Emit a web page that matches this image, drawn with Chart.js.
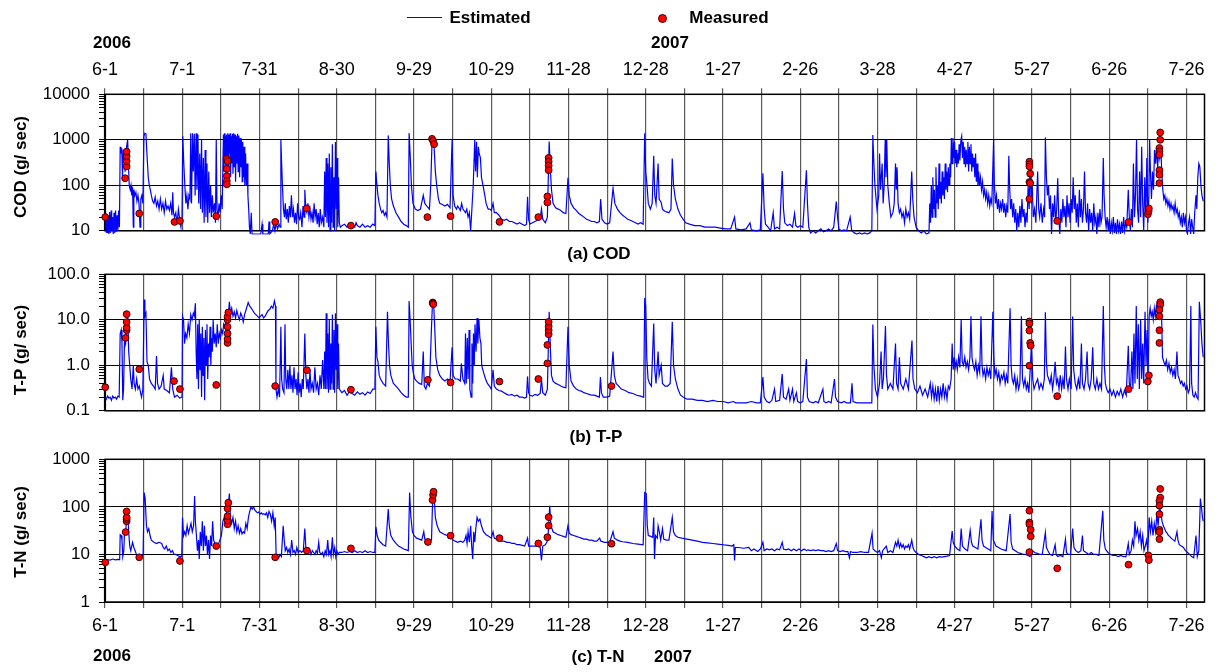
<!DOCTYPE html>
<html><head><meta charset="utf-8">
<script src="https://cdn.jsdelivr.net/npm/chart.js@4/dist/chart.umd.min.js"></script>
<style>
html,body{margin:0;padding:0;background:#fff}
body{width:1219px;height:672px;position:relative;overflow:hidden;font-family:"Liberation Sans",Arial,sans-serif;color:#000}
canvas{position:absolute;left:0}
.t{position:absolute;font-weight:bold;font-size:17px;white-space:nowrap;transform:translate(-50%,-50%);z-index:2}
.r{position:absolute;font-weight:bold;font-size:17px;white-space:nowrap;transform:translate(-50%,-50%) rotate(-90deg);z-index:2}
</style></head><body>
<canvas id="c1" width="1219" height="250" style="top:0px"></canvas>
<canvas id="c2" width="1219" height="180" style="top:250px"></canvas>
<canvas id="c3" width="1219" height="232" style="top:440px"></canvas>

<div style="position:absolute;left:407px;top:17px;width:35px;height:0;border-top:1.5px solid #0000ff;z-index:2"></div>
<div class="t" style="left:490px;top:18px">Estimated</div>
<div style="position:absolute;left:658px;top:14px;width:7px;height:7px;border-radius:50%;background:#ff0000;border:1px solid #400;z-index:2"></div>
<div class="t" style="left:729px;top:18px">Measured</div>
<div class="t" style="left:112px;top:43px">2006</div>
<div class="t" style="left:670px;top:43px">2007</div>
<div class="t" style="left:599px;top:254px">(a) COD</div>
<div class="t" style="left:596px;top:437px">(b) T-P</div>
<div class="t" style="left:598px;top:657px">(c) T-N</div>
<div class="t" style="left:673px;top:657px">2007</div>
<div class="t" style="left:112px;top:656px">2006</div>
<div class="r" style="left:21px;top:167px">COD (g/ sec)</div>
<div class="r" style="left:21px;top:350px">T-P (g/ sec)</div>
<div class="r" style="left:21px;top:532px">T-N (g/ sec)</div>

<script>
// ---------- DATA (day index from 2006-06-01) ----------
const tickLabels = ['6-1','7-1','7-31','8-30','9-29','10-29','11-28','12-28','1-27','2-26','3-28','4-27','5-27','6-26','7-26'];
const gridDays = [0,15,30,45,60,75,90,105,120,135,150,165,180,195,210,225,240,255,270,285,300,315,330,345,360,375,390,405,420];
const codDecades = [10,100,1000,10000];
const codDecLabels = ['10','100','1000','10000'];
const tpDecades = [0.1,1,10,100];
const tpDecLabels = ['0.1','1.0','10.0','100.0'];
const tnDecades = [1,10,100,1000];
const tnDecLabels = ['1','10','100','1000'];

const estCOD = [[0,12],[0.3,25],[0.5,9],[0.8,22],[1,9],[1.3,18],[1.5,8.5],[1.8,26],[2.1,9],[2.4,28],[2.6,10],[2.9,20],[3.2,8.5],[3.5,25],[3.8,9],[4.1,28],[4.4,9.5],[4.7,22],[5,10],[5.3,28],[5.6,12],
[5.9,700],[6.2,500],[6.5,650],[6.8,150],[7.1,600],[7.5,400],[7.8,200],[8.2,600],[8.8,1000],[9.1,300],[9.4,100],[9.8,80],[10.1,100],[10.4,60],[10.7,90],[11,12],[11.2,80],[11.6,60],[12,70],[12.4,45],[12.8,60],[13.2,40],[13.6,12],[13.9,50],[14.3,60],[14.7,40],
[15.1,1200],[15.5,1400],[15.9,1350],[16.2,600],[16.5,300],[16.8,150],[17.2,100],[17.6,80],[18,60],[18.5,45],[19,40],[19.5,55],[20,35],[20.5,45],[21,30],[21.5,50],[22,30],[22.5,40],[23,25],[23.5,45],[24,30],[24.5,35],[25,28],[25.5,40],[26,22],[26.3,70],[26.6,25],[27,20],[27.5,25],[28,14],[28.5,30],[29,18],[29.5,12],[29.9,20],
[30.2,1200],[30.6,300],[31,100],[31.4,40],[31.8,60],[32.2,30],[32.6,60],[33,50],[33.3,1400],[33.6,40],[34,1400],[34.3,200],[34.7,1350],[35,60],[35.4,1400],[35.7,80],[36.1,1300],[36.4,40],[36.8,500],[37.1,30],[37.5,1000],[37.8,25],[38.2,400],[38.5,15],[38.9,600],[39.2,20],[39.6,300],[39.9,15],[40.3,200],[40.6,25],[41,100],[41.3,20],[41.7,60],[42,25],[42.5,40],[42.9,15],[43.2,1000],[43.5,30],[43.9,20],[44.3,40],[44.7,25],[45.1,60],[45.5,30],
[46,1300],[46.2,200],[46.4,1400],[46.6,300],[46.8,1200],[47,150],[47.2,1300],[47.4,400],[47.7,1400],[47.9,200],[48.1,1300],[48.3,500],[48.6,1400],[48.8,150],[49,1200],[49.3,300],[49.5,1350],[49.7,180],[50,1400],[50.2,250],[50.5,1300],[50.7,120],[51,1200],[51.2,300],[51.5,1350],[51.7,200],[52,1250],[52.3,150],[52.5,1100],[52.8,250],[53,1000],[53.3,120],[53.5,900],[53.8,150],[54,700],[54.3,100],[54.6,500],[54.9,100],[55.2,300],[55.5,60],
[55.8,30],[56.1,12],[56.4,8.5],[56.8,25],[57.1,8.5],[57.5,8.5],[58.5,8.5],[59.5,8.5],[60.5,8.5],[61,14],[61.3,8.5],[62.5,8.5],[63.4,8.5],[63.7,16],[64,8.5],[65,10],[65.5,14],[66,10],[66.5,15],[67,11],[67.6,14],[68,12],
[68.3,1000],[68.6,300],[68.9,100],[69.3,30],[69.7,20],[70,40],[70.4,18],[70.8,30],[71.2,15],[71.6,35],[72,20],[72.4,60],[72.8,20],[73.2,30],[73.6,15],[74,25],[74.4,14],[74.8,40],[75.2,20],[75.6,18],[76,25],[76.5,12],[76.9,35],[77.3,20],[77.6,80],[78,30],[78.4,25],[78.8,40],[79.2,20],[79.6,30],[80,18],[80.4,25],[80.8,15],[81.2,40],[81.6,20],[82,30],[82.4,14],[82.8,25],[83.2,12],[83.6,30],[84,15],[84.5,20],
[85,12],[85.3,200],[85.6,20],[85.9,400],[86.2,15],[86.5,300],[86.8,12],[87.1,500],[87.4,10],[87.7,250],[88,15],[88.3,800],[88.6,12],[88.9,150],[89.2,10],[89.5,900],[89.8,30],[90.1,400],[90.4,12],[90.7,150],[91,15],[91.4,12],
[92,13],[93,14],[94,12],[95,14],[96,13],[97,12],[97.5,15],[98,13],[99,12],[100,14],[101,12],[102,13],[103,12],[104,14],[104.8,13],
[105.2,200],[105.5,120],[106,60],[106.5,40],[107,30],[107.5,25],[108,28],[108.5,22],[109,25],[109.5,20],
[110,1250],[110.4,300],[110.8,100],[111.3,50],[112,35],[113,25],[114,20],[115,16],[116,14],[117,13],[117.8,12],
[118.1,1400],[118.5,500],[119,100],[119.6,40],[120.5,30],[121.5,28],[122.5,30],[123.6,60],[124.2,40],[125,35],[126,30],[126.5,100],[127,900],[127.4,850],[127.8,700],[128.3,200],[128.8,100],[129.5,50],[130,40],[131,38],[132,35],[133,38],[134,32],[134.8,1000],[135.2,60],[135.8,35],[136.5,30],[137,35],[138,28],[138.5,40],[139,30],[140,25],[140.5,30],[141,20],[141.5,25],[142,10],[142.4,25],[143,100],[143.6,1000],[143.9,200],[144.3,900],[144.6,150],[145,700],[145.3,500],[145.8,400],[146.2,150],[146.8,100],[147.5,60],[148,40],[148.8,30],[149.4,30],[150,28],[150.7,40],[151.2,25],[152,25],[153,22],[154,18],[155,17],[156,18],[157,16],[158,16],[159,15],[160,14],[161,15],[162,14],[163,13],[163.7,14],[164.1,56],[164.5,18],[165,14],[166,15],[167,16],[168,17],[169,18],[169.5,30],[170,18],[171,15],[171.8,20],[172.5,920],[173,200],[173.4,80],[174,40],[175,32],[176,30],[177,28],[178,25],[179,24],[179.8,147],[180.3,60],[181,40],[182,32],[183,28],[184,24],[185,22],[186,20],[187,18],[188,17],[189,16],[190,16],[191,15],[192,16],[192.5,50],[193,18],[194,15],[195,14],[196,15],[197.3,86],[198,40],[199,30],[200,25],[201,22],[202,20],[203,18],[204,17],[205,16],[206,15],[207,14],[208,15],[209,14],[209.6,1400],[210,200],[210.5,100],[211,40],[211.8,30],[212.5,40],[213.1,445],[213.5,60],[214,40],[214.8,300],[215.2,50],[216,42],[216.5,30],[217,28],[218,26],[219,25],[219.8,30],[220.3,390],[220.8,100],[221.5,50],[222.5,30],[223.5,22],[224.5,18],[225.5,15],[227,14],[229,13],[231,13],[233,12],[235,12],[237,12],[239,11.5],[241,11],[243,11],[244.5,20],[245,11],[247,10.5],[249,11],[250.5,15],[251,10.5],[253,10],[254.5,10.5],[255.5,183],[256,30],[256.5,14],[257.5,12],[258.5,10],[259.5,25],[260,11],[261,12],[262,11],[263,206],[263.5,30],[264,15],[265,13],[266,14],[267,12],[267.8,24],[268.3,13],[269,12],[270,13],[271,12],[272.4,215],[272.8,40],[273.3,12],[274,9],[275,10],[276,9],[277,10],[278,11],[279,9.5],[280,10],[281,11],[282,10],[283,12],[284,44],[284.5,20],[285,11],[286,10],[287,10.5],[288,10],[289.4,20],[290,10],[291,9],[292,8.5],[293,9],[294,8.5],[295,9],[296,8.5],[297,9],[297.8,10],[298.2,1280],[298.6,300],[299,100],[299.8,30],[300.5,60],[300.8,500],[301.2,80],[301.8,300],[302.2,40],[302.6,100],[303,1000],[303.3,150],[303.6,1000],[304,100],[304.6,40],[305.2,20],[306,25],[306.5,40],[307,300],[307.3,80],[307.6,250],[308,40],[308.5,25],[309,30],[309.5,20],[310,25],[310.5,15],[311,30],[311.5,20],[312,25],[312.5,18],[313.3,200],[313.7,50],[314.2,20],[315,12],[316,10],[317,9],[318,10],[319,8.5],[320,9],
[320.3,40],[320.6,15],[320.9,100],[321.2,20],[321.5,150],[321.8,30],[322.1,80],[322.4,20],[322.7,250],[323,40],[323.3,100],[323.6,30],[323.9,300],[324.2,50],[324.5,120],[324.8,40],[325.1,200],[325.4,60],[325.7,150],[326,50],[326.3,300],[326.6,80],[326.9,200],[327.2,70],[327.5,250],[327.8,100],[328.1,300],[328.4,150],
[328.7,1100],[329,300],[329.3,1100],[329.6,400],[329.9,900],[330.2,300],[330.5,600],[330.8,250],[331.1,500],[331.4,300],[331.7,800],[332,350],[332.4,1000],[332.7,1200],[333,400],[333.3,900],[333.6,300],[333.9,700],[334.2,250],[334.5,600],[334.8,300],[335.1,900],[335.4,200],[335.7,700],[336,300],[336.3,800],[336.6,200],[336.9,500],[337.2,250],[337.5,400],[337.8,150],[338.1,500],[338.4,120],[338.7,300],[339,100],[339.3,200],
[339.6,100],[340,150],[340.4,80],[340.8,120],[341.2,60],[341.6,80],[342,50],[342.4,70],[342.8,40],[343.2,60],[343.6,35],[344,50],[344.4,40],[345.1,1000],[345.4,100],[345.8,40],[346.2,60],[346.6,30],[347,50],[347.4,25],[347.8,40],[348.2,30],[348.6,50],[349,25],[349.4,40],[349.8,20],[350.2,35],[350.6,25],[351,445],[351.3,100],[351.7,30],[352.1,50],[352.5,20],[352.9,40],[353.3,15],[353.7,30],[354.1,10],[354.5,25],[354.9,12],[355.3,35],[355.7,15],[356.1,50],[356.5,20],[356.9,30],[357.3,12],[357.7,25],[358.1,15],[358.5,100],[358.9,30],[359.3,350],[359.7,40],[360.1,100],[360.5,20],[361,30],[361.5,15],[362.2,200],[362.6,30],[363,20],[363.5,40],[364,15],[364.5,30],[364.9,20],[365.2,1130],[365.6,150],[366,60],[366.4,100],[366.8,30],[367.2,60],[367.6,8.5],[368,40],[368.4,20],[368.8,60],[369.2,15],[369.6,30],[370,143],[370.4,20],[370.8,8.5],[371.2,30],[371.6,15],[372,50],[372.4,20],[372.8,35],[373.2,12],[373.6,60],[374,20],[374.4,40],[374.8,15],[375.2,50],[375.6,25],[376,150],[376.4,30],[376.8,60],[377.2,15],[377.6,40],[378,12],[378.4,80],[378.8,20],[379.2,50],[379.6,15],[380,30],[380.4,200],[380.8,25],[381.2,15],[381.6,40],[382,10],[382.4,30],[382.8,15],[383.2,25],[383.6,10],[384,40],[384.4,15],[384.8,20],[385.2,8.5],[385.6,25],[386,12],[386.4,30],[386.8,15],[387.2,20],[387.7,400],[388,60],[388.4,20],[388.8,12],[389.2,20],[389.6,10],[390,18],[390.4,8.5],[390.8,15],[391.2,10],[391.6,20],[392,9],[392.4,15],[392.8,8.5],[393.2,18],[393.6,10],[394,14],[394.4,8.5],[394.8,16],[395.2,9],[395.6,20],[396,10],[396.4,15],[396.8,12],[397.4,80],[397.8,20],[398.2,10],[398.6,30],[399,12],[399.4,300],[399.8,20],[400.2,60],[400.6,1000],[401,30],[401.4,15],[401.8,200],[402.2,20],[402.6,700],[403,40],[403.4,10],[403.8,150],[404.2,20],[404.6,400],[405,15],[405.4,60],[405.7,1000],[406,200],[406.4,50],[406.8,200],[407.2,80],[407.6,600],[408,300],[408.4,700],[408.8,250],[409.2,600],[409.6,400],[410,700],[410.4,200],
[410.8,80],[411.2,50],[411.6,60],[412,40],[412.4,50],[412.8,35],[413.2,45],[413.6,30],[414,40],[414.4,30],[414.8,35],[415.2,25],[415.6,40],[416,25],[416.4,30],[416.8,20],[417.2,25],[417.6,15],[418,20],[418.4,12],[418.8,25],[419.2,15],[419.6,20],[420,10],[420.4,8.5],[420.8,15],[421.2,20],[421.6,8.5],[422,18],[422.4,12],[422.8,8.5],[423.2,25],[423.7,60],[424,30],[424.4,150],[424.8,300],[425.2,250],[425.6,100],[426,60],[426.5,45]];

const measCOD = [[0.1,20],[7.8,143],[8.4,260],[8.4,340],[8.4,440],[8.4,550],[13.3,24],[27,15.7],[29.1,16.5],[43.2,21],[47.2,380],[47.6,340],[47.3,230],[47.3,160],[47.3,125],[47.3,105],[66.1,15.7],[78.3,31],[95.5,13],[125.2,20],[127,1050],[127.4,950],[127.8,800],[134.2,21],[153.2,15.7],[168.3,20],[171.8,57],[171.8,42],[172.3,400],[172.3,330],[172.3,270],[172.3,215],[359,330],[359,290],[359,260],[359.3,180],[359,118],[359.3,112],[359,50],[369.8,16.5],[397.5,15.5],[405,23],[405.3,27],[405.4,31],[409.8,1450],[409.8,1000],[409.5,660],[409.5,560],[409.5,470],[409.5,215],[409.5,170],[409.5,112]];

const estTP = [[0,0.2],[0.5,0.18],[1,0.21],[1.5,0.19],[2,0.2],[2.5,0.17],[3,0.21],[3.5,0.19],[4,0.2],[4.5,0.18],[5,0.21],[5.5,0.2],
[5.9,5],[6.3,6],[6.6,3],[6.9,0.17],[7.2,0.3],[7.6,4],[8,3],[8.4,6],[8.8,15],[9.2,2],[9.6,1],[10,0.5],[10.5,0.3],[11,1.0],[11.3,0.4],[11.8,0.3],[12.3,0.5],[12.8,0.3],[13.3,0.35],[13.8,0.25],[14.2,0.2],[14.7,0.3],
[15.2,28],[15.5,12],[15.9,14],[16.3,1.2],[16.8,1.0],[17.3,0.5],[18,0.4],[18.8,0.35],[19.5,0.3],[20,1.6],[20.4,0.4],[21,0.3],[21.8,0.35],[22.6,0.6],[23,0.3],[24,0.28],[25,0.25],[25.8,0.9],[26.3,0.3],[27,0.2],[28,0.22],[29,0.19],[29.9,0.2],
[30.1,12],[30.5,10],[30.9,3],[31.3,5],[31.8,4],[32.3,8],[32.8,5],[33.3,13],[33.8,10],[34.3,14],[34.7,12],[35.1,23],[35.4,2],[35.7,0.5],[36,8],[36.3,0.3],[36.6,10],[36.9,0.8],[37.2,5],[37.5,0.2],[37.8,7],[38.1,0.6],[38.4,4],[38.7,0.17],[39,6],[39.3,1],[39.6,8],[39.9,0.5],[40.2,3],[40.5,1.5],[40.8,7],[41.1,1],[41.4,4],[41.7,2],[42,10],[42.4,3],[42.8,5],[43.2,2.5],[43.6,8],[44,3],[44.4,5],[44.8,4],[45.3,6],[45.7,5],[46.1,8],[46.5,7],[47,10],[47.5,12],[48,15],[48.3,25],[48.7,14],[49.2,18],[49.7,12],[50.2,15],[50.7,11],[51.2,16],[51.7,12],[52.2,10],[52.7,14],[53.2,12],[53.7,9],[54.2,13],[54.7,16],[55.2,20],[55.6,24],[56.2,20],[56.8,18],[57.4,16],[58,14],[58.6,13],[59.2,12],[59.8,11],[60.4,12],[61,13],[61.6,11],[62.2,12],[62.8,14],[63.4,16],[64,17],[64.6,20],[65.2,18],[65.8,26],[66.2,20],[66.4,0.3],[66.8,0.2],[67.3,0.3],[67.8,0.2],[68.3,7],[68.6,0.5],[69,0.3],[69.5,0.25],[69.9,8],[70.2,0.5],[70.6,0.3],[71,0.8],[71.4,0.3],[71.8,1.0],[72.2,0.3],[72.6,0.6],[73,0.25],[73.4,0.9],[73.8,0.3],[74.2,0.5],[74.6,0.22],[75,0.7],[75.4,0.25],[75.8,0.4],[76.2,0.2],[76.6,0.5],[77,0.3],[77.6,5],[78,0.6],[78.4,0.3],[78.8,0.5],[79.2,0.25],[79.6,0.8],[80,0.3],[80.5,0.4],[81,0.25],[81.5,0.9],[82,0.3],[82.5,0.4],[83,0.22],[83.5,0.6],[84,0.3],[84.5,1.3],[85,0.3],
[85.3,2],[85.6,0.3],[85.9,14],[86.2,0.3],[86.5,5],[86.8,0.25],[87.1,10],[87.4,0.3],[87.7,3],[88,0.4],[88.3,13],[88.6,0.3],[88.9,6],[89.2,0.25],[89.5,14],[89.8,0.8],[90.1,8],[90.4,0.3],[90.7,3],[91,0.3],
[92,0.25],[93,0.28],[94,0.22],[95,0.27],[96,0.24],[97,0.22],[98,0.26],[99,0.23],[100,0.25],[101,0.22],[102,0.26],[103,0.24],[104,0.3],[104.8,0.3],
[105.2,7],[105.6,1.5],[106,1.2],[106.5,0.6],[107,0.5],[108,0.4],[109,0.35],[109.7,15],[110.1,3],[110.5,1.0],[111,0.6],[112,0.4],[113,0.35],[114,0.3],[115,0.25],[116,0.22],[117,0.2],[117.8,0.2],
[118.1,26],[118.5,10],[118.9,3],[119.3,1],[119.7,0.7],[120.3,0.5],[121,0.45],[122,0.4],[123,0.38],[123.6,2],[124,0.35],[124.6,0.3],[125.2,0.4],[126,0.35],[126.8,7],[127.2,25],[127.6,24],[128,8],[128.5,1.5],[129.2,0.8],[130,0.6],[131,0.5],[132,0.45],[133,0.5],[134,0.45],[134.8,2.5],[135.2,0.6],[136,0.5],[137,0.5],[138,0.45],[138.4,1.1],[139,0.5],[139.7,0.4],[140,5],[140.3,0.4],[140.7,4],[141,0.5],[141.4,6],[141.7,0.3],[142.2,0.2],[142.5,3],[142.8,0.4],[143.1,5],[143.4,1],[143.7,8],[144.1,2],[144.5,11],[144.8,3],[145.2,10],[145.6,4],[146,3],[146.3,1.0],[147,0.7],[147.8,0.5],[148.5,0.4],[149.3,0.35],[150,0.3],[150.7,0.8],[151.2,0.35],[152,0.3],[153,0.28],[154,0.27],[155,0.25],[156,0.23],[157,0.22],[158,0.23],[159,0.21],[160,0.22],[161,0.2],[162,0.2],[163,0.19],[163.7,0.2],[164.1,0.57],[164.5,0.25],[165,0.22],[166,0.21],[167,0.23],[168,0.22],[169,0.24],[169.5,0.5],[170,0.25],[171,0.22],[171.8,0.3],[172.5,15],[173,2],[173.4,0.6],[174,0.45],[175,0.4],[176,0.38],[177,0.35],[178,0.33],[179,0.32],[179.8,7],[180.3,1],[181,0.45],[182,0.35],[183,0.3],[184,0.28],[185,0.27],[186,0.25],[187,0.24],[188,0.23],[189,0.22],[190,0.22],[191,0.21],[192,0.2],[192.4,0.55],[192.8,0.25],[193.5,0.2],[195,0.2],[196,0.21],[197.3,2],[197.8,0.6],[198.5,0.4],[199.5,0.35],[200.5,0.3],[202,0.28],[203.5,0.25],[205,0.24],[206.5,0.22],[208,0.21],[209.2,0.2],[209.6,30],[210,20],[210.4,1.5],[210.9,0.5],[211.5,0.4],[212.2,0.35],[213.1,8.3],[213.5,0.8],[214,0.4],[214.8,2],[215.2,0.6],[216,1.0],[216.5,0.4],[217.5,0.35],[218.5,0.35],[219.5,0.4],[220.3,9],[220.8,1.0],[221.5,0.5],[222.5,0.3],[223.5,0.22],[224.5,0.2],[226,0.18],[228,0.18],[230,0.17],[232,0.17],[234,0.16],[236,0.17],[238,0.16],[240,0.16],[242,0.15],[244,0.16],[245,0.15],[247,0.15],[249,0.15],[251,0.16],[253,0.15],[254.5,0.15],[255.5,0.55],[256,0.2],[257,0.16],[258,0.15],[259,0.17],[260,0.3],[260.5,0.16],[262,0.17],[263,0.64],[263.5,0.2],[264.5,0.18],[265.5,0.3],[266,0.17],[267,0.3],[267.5,0.16],[268.5,0.25],[269,0.16],[270,0.15],[271,0.16],[272.4,1.37],[272.8,0.2],[273.5,0.16],[275,0.15],[276,0.16],[277,0.15],[278.8,0.3],[279.2,0.16],[280,0.15],[281,0.16],[282,0.15],[283.3,0.5],[283.7,0.2],[284.5,0.16],[286,0.15],[287,0.16],[288,0.15],[289.5,0.15],[290.1,0.4],[290.5,0.16],[292,0.15],[294,0.15],[296,0.15],[297.8,0.15],[298.2,7.9],[298.6,1],[299.2,0.3],[300,0.2],[300.8,0.4],[301.4,2],[301.8,0.3],[302.3,0.5],[303.1,7.3],[303.5,0.6],[304,0.3],[305,0.4],[306,0.3],[307,3],[307.4,0.4],[308,0.3],[308.5,1.5],[309,0.4],[310,0.3],[311,0.5],[312,0.3],[313.4,3.5],[313.8,0.5],[314.5,0.3],[315.5,0.25],[316.5,0.35],[317.5,0.22],[318.5,0.3],[319.5,0.2],[320.5,0.4],[321,0.2],[321.5,0.35],[322,0.18],[322.5,0.3],[323,0.16],[323.5,0.35],[324,0.17],[324.5,0.3],[325,0.2],[325.5,0.4],[326,0.2],[326.5,0.3],[327,0.18],[327.5,0.35],[328,0.3],[328.6,0.5],[329,3],[329.4,0.8],[329.8,1.5],[330.2,0.9],[330.6,1.2],[331,0.8],[331.5,1.5],[332,0.9],[332.5,10],[332.9,1.2],[333.4,1.0],[333.9,1.5],[334.4,0.9],[334.9,1.2],[335.4,0.8],[335.9,1.5],[336.3,12],[336.7,1.5],[337.2,1.0],[337.7,0.8],[338.2,1.2],[338.7,0.6],[339.2,1.0],[339.7,0.7],[340.2,12],[340.6,1],[341,0.6],[341.5,0.8],[342,0.5],[342.5,0.9],[343,0.6],[343.5,0.8],[344,0.5],[344.8,15],[345.2,1.5],[345.6,0.6],[346.1,0.8],[346.6,0.5],[347.1,0.7],[347.6,0.4],[348.1,0.6],[348.6,0.5],[349.1,0.7],[349.6,0.4],[350.1,0.6],[350.6,0.4],[351.5,18],[351.9,1],[352.3,0.5],[352.8,0.4],[353.3,0.6],[353.8,0.3],[354.3,0.5],[354.8,0.3],[355.3,0.4],[355.9,12],[356.3,0.5],[356.8,0.35],[357.3,0.5],[357.8,0.3],[358.3,0.4],[358.8,0.25],[359.3,0.8],[359.8,3],[360.3,0.5],[360.8,0.3],[361.5,0.4],[362.2,0.5],[362.8,0.3],[363.5,0.4],[364.2,0.3],[364.8,0.5],[365.2,14.7],[365.6,1.2],[366,0.6],[366.5,0.5],[367,0.4],[367.5,0.6],[368,0.3],[368.5,0.5],[369,1.2],[369.5,0.4],[370,0.5],[370.5,0.3],[371,0.6],[371.5,0.3],[372,0.5],[372.5,0.3],[373,2.6],[373.4,0.5],[374,0.3],[374.5,0.5],[375.2,0.3],[375.8,11.8],[376.2,0.8],[376.8,0.4],[377.4,0.3],[378,0.5],[378.6,0.3],[379.2,3],[379.6,0.4],[380.2,0.3],[380.8,0.5],[381.4,2],[381.8,0.4],[382.4,0.3],[383,0.5],[383.6,2.5],[384,0.4],[384.6,0.3],[385.2,0.5],[385.8,0.3],[386.4,0.4],[387,0.3],[387.7,20],[388.1,1],[388.5,0.4],[389,0.3],[389.6,0.25],[390.3,0.3],[391,0.22],[391.7,0.28],[392.4,0.2],[393.1,0.27],[393.8,0.22],[394.5,0.3],[395.2,0.2],[395.9,0.28],[396.6,0.22],[397.4,2.7],[397.8,0.4],[398.3,0.3],[398.8,2],[399.2,0.3],[399.6,5],[400,0.4],[400.5,20],[400.9,0.5],[401.3,8],[401.7,0.3],[402.2,10],[402.6,0.5],[403,3],[403.4,0.4],[403.9,15],[404.3,1],[404.7,6],[405.1,0.5],[405.5,12],[405.9,18],[406.3,12],[406.7,15],[407.1,10],[407.5,18],[407.9,12],[408.3,20],[408.7,14],[409.1,16],[409.5,12],[409.9,22],[410.3,14],[410.7,1.5],[411.2,1.2],[411.7,1.0],[412.2,1.3],[412.7,0.8],[413.2,1.1],[413.7,0.7],[414.2,0.9],[414.7,0.6],[415.2,0.8],[415.7,0.5],[416.3,2],[416.7,0.6],[417.2,0.5],[417.7,0.4],[418.2,0.45],[418.7,0.35],[419.2,0.4],[419.7,0.3],[420.2,0.35],[420.7,0.25],[421.2,0.3],[421.7,20],[422,0.4],[422.5,0.22],[423,0.2],[423.5,0.25],[424,0.2],[424.5,0.18],[425,25],[425.5,10],[426,3],[426.5,1.5]];

const measTP = [[0.1,0.33],[8,4.0],[8.4,5.9],[8.4,6.7],[8.4,8.9],[8.4,13.3],[13.3,0.82],[26.8,0.45],[29.1,0.3],[43.2,0.37],[47.6,3.1],[47.6,3.8],[47.6,5],[47.6,7],[47.6,10],[47.6,11.7],[47.9,14.5],[66.1,0.35],[78.4,0.78],[95.5,0.29],[125.4,0.48],[127.3,24],[127.3,23],[127.5,22],[134.2,0.42],[153.2,0.44],[168.3,0.5],[171.8,1.1],[171.8,2.8],[172.3,4.8],[172.3,5.9],[172.3,7.2],[172.3,9.0],[196.7,0.35],[359,9.2],[359,8.3],[359,5.8],[359.3,3.1],[359.5,2.7],[359,0.98],[369.8,0.21],[397.5,0.3],[405,0.44],[405.4,0.6],[409.8,24.4],[409.8,21.5],[409.5,16.5],[409.5,12],[409.5,5.9],[409.5,3.1]];

const estTN = [[0,7.5],[1,7.8],[2,7.6],[3,8],[4,7.7],[5,7.9],[5.7,7.8],[5.9,26],[6.3,25],[6.6,20],[6.9,9],[7.3,12],[7.6,30],[8,28],[8.4,60],[8.8,80],[9.2,30],[9.6,15],[10,12],[10.7,18],[11.2,14],[11.7,12],[12.2,10],[12.8,9],[13.5,10],[14.2,9],[14.8,10],
[15.2,200],[15.6,150],[16.1,40],[16.5,30],[17,35],[17.5,25],[18,20],[19,18],[20,17],[20.5,17.5],[21,18],[22,17],[22.6,14],[23.2,13],[23.8,15],[24.4,12],[25,13],[25.6,11],[26.2,12],[26.8,10],[27.5,10],[28.2,9.5],[29,9],[29.8,9.2],
[30.1,60],[30.5,25],[30.9,30],[31.4,25],[31.9,40],[32.4,28],[32.9,35],[33.4,45],[33.9,30],[34.4,40],[34.8,170],[35.1,50],[35.5,25],[35.9,12],[36.3,20],[36.6,8],[37,30],[37.4,15],[37.8,50],[38.2,12],[38.6,40],[39,15],[39.4,25],[39.8,10],[40.2,20],[40.6,8],[41,25],[41.4,15],[41.8,50],[42.2,20],[42.7,17],[43.3,15],[44,16],[44.6,20],[45.2,25],[45.8,50],[46.3,60],[46.8,50],[47.3,80],[47.8,100],[48.3,190],[48.7,60],[49.2,45],[49.7,60],[50.2,35],[50.7,50],[51.2,30],[51.7,40],[52.2,28],[52.7,35],[53.2,27],[53.7,30],[54.2,28],[54.7,45],[55.2,35],[55.7,60],[56.2,80],[56.7,100],[57.2,90],[57.7,100],[58.2,85],[58.7,80],[59.2,75],[59.7,78],[60.2,70],[60.7,75],[61.2,70],[61.7,72],[62.2,68],[62.7,75],[63.2,60],[63.7,80],[64.2,70],[64.7,50],[65.2,75],[65.7,40],[66.1,60],[66.5,8],[67,9],[67.5,8.5],[68,10],[68.5,9],[69.2,40],[69.6,20],[70,12],[70.5,14],[71,11],[71.5,13],[72,10],[72.5,20],[73,11],[73.5,12],[74,10],[74.5,14],[75,11],[75.7,12],[76.3,11],[77,12],[77.6,35],[78,14],[78.5,12],[79,11],[79.5,13],[80,10],[80.5,12],[81,11],[81.5,10],[82,12],[82.5,10.5],[83,18],[83.4,11],[84,10],[84.5,11],[85,9],[85.5,12],[86,10],[86.5,20],[86.9,10],[87.4,12],[87.8,9],[88.3,23],[88.7,10],[89.2,14],[89.6,9],[90,12],[90.5,10],[91,11],[92,11],[93,11.5],[94,11],[95,11.5],[96,11],[97,12],[98,11],[99,11.5],[100,11],[101,12],[102,11],[103,11.5],[104,11],[104.8,11],
[105.2,38],[105.7,25],[106.3,20],[107,18],[108,16],[109,15],[110,90],[110.4,40],[111,25],[112,20],[113,17],[114,15],[115,14],[116,13],[117,12.5],[117.8,12],
[118.3,200],[118.8,60],[119.4,30],[120,25],[121,22],[122,21],[123,20],[123.8,30],[124.2,21],[125,20],[126,19],[126.8,20],[127.3,190],[127.8,180],[128.3,60],[129,40],[130,30],[131,28],[132,26],[133,25],[134,24],[135.2,20],[136,19],[137,18],[138,19],[139,18],[139.7,20],[140.2,25],[140.6,17],[141,30],[141.5,18],[142,40],[142.4,15],[142.8,8],[143.2,30],[143.6,18],[144,35],[144.5,60],[145,50],[145.6,55],[146.2,40],[147,30],[148,26],[149,24],[150,22],[150.7,30],[151.2,22],[152,21],[153,20],[154,19],[155,19],[156,18],[157,18],[158,17],[159,17],[160,16],[161,16],[162,15.5],[163,15],[164.1,22],[164.5,15],[165,15],[166,15],[167,15],[168,15],[169,14],[169.5,7.5],[170,15],[171,16],[172,20],[172.7,106],[173.2,40],[174,30],[175,28],[176,26],[177,25],[178,24],[179,23],[179.8,40],[180.3,28],[181,26],[182,25],[183,24],[184,23],[185,22],[186,21],[187,21],[188,20],[189,20],[190,19],[191,19],[192.1,22],[192.6,19],[194,18],[195,18],[196,18],[197.3,30],[197.8,22],[199,20],[200,19],[201,18.5],[203,18],[205,17],[207,16.5],[209,16],[209.3,16],[209.6,200],[210.2,190],[210.6,40],[211,25],[212,24],[212.7,23],[213.1,60],[213.4,8],[213.8,25],[214.5,22],[214.8,40],[215.3,30],[215.8,20],[216.5,35],[217,21],[218,20],[219,20],[220.3,60],[220.8,30],[221.5,25],[222.5,23],[224,22],[226,21],[228,20],[230,19],[232,18],[234,17.5],[236,17],[238,16.5],[240,16],[242,15.5],[243.5,15],[244.2,16],[244.5,7.5],[244.8,14],[246,14],[248,13.5],[250,14],[251,12],[252,13],[253.5,11.5],[254.5,13],[255.5,18],[256,12],[257,13],[258,12.5],[259,13],[260,12],[261,13],[262,12.5],[263,18],[263.5,13],[264.5,12.5],[265.5,13],[266.5,12],[267.5,13],[268.5,12],[269.5,13],[270.5,12],[271.5,13],[272.4,12],[273,12.5],[274,12],[275,12.5],[276,12],[277,12.5],[278,12],[279,12],[280,11.5],[281,12],[282,11.5],[283,12],[284,17],[284.5,12],[285.5,11.5],[286.5,12],[287.5,11.5],[288.5,11.5],[289.1,8.5],[289.5,11.5],[290.5,11],[292,11],[293.5,11.5],[295,11],[296.5,11],[297.9,28],[298.3,13],[299,12],[300,11],[300.8,12],[301.5,8.5],[302,12],[303.4,15],[304,11],[305,12],[306,11],[307,18],[307.5,15],[308,20],[308.5,14],[309,17],[309.5,14],[310,16],[310.5,13],[311,15],[311.5,14],[312,16],[312.5,13],[313.3,20],[313.8,14],[314.3,12],[315,11],[316,10],[317,9.5],[318,9],[319,8.5],[320,9],[321,8.5],[322,9],[323,8.5],[324,9],[325,8.8],[326,9],[327,9.2],[328,9.5],[329,31],[329.4,18],[330,15],[331,13],[332,12],[332.5,35],[333,15],[334,13],[335,12],[336,32],[336.5,18],[337,15],[338,14],[339,13],[340.2,55],[340.6,20],[341.2,15],[342,14],[343,13],[344,12],[344.5,82],[345,20],[346,15],[347,14],[348,13],[349,12.5],[350,12],[351.5,71],[351.9,18],[352.5,13],[353.5,12],[354.5,11],[355.5,10.5],[356.5,10],[357.5,10],[358.5,9.5],[359.2,9],[360.3,12],[361,11],[362,10.5],[363,10],[364,10],[365.2,29],[365.6,14],[366.2,12],[367,10],[368,9.5],[369,16],[369.4,10],[370,9],[371,9.5],[372,9],[373,21],[373.4,11],[374,10],[375,10],[375.8,35],[376.3,14],[377,12],[378,11],[379,12],[379.6,25],[380,12],[381,11],[382,10],[383,11],[384,10],[385,10],[386,9.5],[387.5,83],[387.9,20],[388.5,13],[389.5,11],[390.5,10],[391.5,9.5],[392.5,9.5],[393.5,9],[394.5,9.5],[395.5,9],[396.5,9],[397.4,17],[397.8,10],[398.5,12],[399,20],[399.5,15],[400,50],[400.4,25],[401,35],[401.5,20],[402,30],[402.5,15],[403,25],[403.5,12],[404,15],[404.5,20],[405,12],[405.5,60],[406,30],[406.5,50],[407,25],[407.5,45],[408,30],[408.5,70],[409,40],[409.5,100],[410,80],[410.5,50],[411,40],[411.5,35],[412,30],[412.5,28],[413,25],[413.5,24],[414,22],[414.5,21],[415,20],[415.5,19],[416.3,30],[416.7,20],[417.2,16],[418,15],[418.8,14],[419.6,12],[420.4,11],[421.2,10],[422,9],[422.8,8.5],[423.7,25],[424.2,9],[424.8,12],[425.4,150],[425.8,100],[426.2,60],[426.5,50]];

const measTN = [[0.1,6.8],[8,29.5],[8.4,49.6],[8.4,55],[8.4,60],[8.4,80],[13.3,8.7],[29.1,7.3],[43.2,15],[47.6,43],[47.6,52],[47.6,64],[47.6,92],[47.9,122],[66.1,8.7],[78.4,12],[95.5,13.4],[125.4,18.3],[127.2,139],[127.4,178],[127.6,208],[134.2,24.8],[153.2,22],[168.3,17],[171.8,23],[172.3,40],[172.3,61],[196.7,16.8],[359,83],[359,47],[359,43],[359.5,33],[359.5,24],[359,11.2],[369.8,5.1],[397.5,6.1],[405.2,9.6],[405.4,7.6],[409.8,238],[409.8,157],[409.5,133],[409.5,106],[409.5,70],[409.5,33],[409.5,29.5],[409.5,21]];

// ---------- CHART ----------
const FONT = "'Liberation Sans', Arial, sans-serif";
const XMAX = 427;
const toXY = a => a.map(p => ({x: p[0], y: p[1]}));
const logTicks = dec => { const t = []; for (let i = 0; i < dec.length - 1; i++) for (let k = 1; k <= 9; k++) t.push(k * dec[i]); t.push(dec[dec.length - 1]); return t; };
const isDec = v => Math.abs(Math.log10(v) - Math.round(Math.log10(v))) < 1e-6;

const frame = {
  id: 'frame',
  beforeDatasetsDraw(chart) {
    const {ctx, chartArea: a} = chart;
    ctx.save();
    ctx.strokeStyle = '#000';
    ctx.lineWidth = 1.5;
    ctx.strokeRect(a.left, a.top, a.right - a.left, a.bottom - a.top);
    ctx.lineWidth = 2.2;
    ctx.beginPath();
    ctx.moveTo(a.left, a.top);
    ctx.lineTo(a.left, a.bottom);
    ctx.stroke();
    ctx.restore();
  }
};

function makePanel(id, cfg) {
  const yt = logTicks(cfg.decades);
  return new Chart(document.getElementById(id).getContext('2d'), {
    type: 'line',
    data: {datasets: [
      {type: 'scatter', label: 'Measured', data: toXY(cfg.meas), backgroundColor: '#ff0000', borderColor: '#3a0000', borderWidth: 1, pointRadius: 3.4, order: 0, clip: false},
      {type: 'line', label: 'Estimated', data: toXY(cfg.est), borderColor: '#0000ff', borderWidth: 1.2, pointRadius: 0, tension: 0, fill: false, order: 1, clip: {left: 0, top: 0, right: 0, bottom: 4}}
    ]},
    options: {
      responsive: false, animation: false, devicePixelRatio: 1, events: [],
      layout: {padding: cfg.padding},
      plugins: {legend: {display: false}, tooltip: {enabled: false}},
      scales: {
        x: {
          type: 'linear', position: cfg.xpos, min: 0, max: XMAX,
          afterBuildTicks: s => { s.ticks = gridDays.map(v => ({value: v})); },
          afterFit: s => { s.height = cfg.xh; },
          grid: {color: '#5a5a5a', lineWidth: 1.2, drawTicks: cfg.xticks, tickLength: 6, tickColor: '#5a5a5a'},
          border: {display: false},
          ticks: {display: cfg.xlabels, autoSkip: false, maxRotation: 0, padding: 7, color: '#000', font: {family: FONT, size: 18},
                  callback: v => (v % 30 === 0 ? tickLabels[v / 30] : '')}
        },
        y: {
          type: 'logarithmic', min: cfg.decades[0], max: cfg.decades[cfg.decades.length - 1],
          afterBuildTicks: s => { s.ticks = yt.map(v => ({value: v})); },
          afterFit: s => { s.width = 105; },
          grid: {color: c => (c.tick && isDec(c.tick.value) ? '#000' : 'rgba(0,0,0,0)'), tickColor: '#000', lineWidth: 1, tickLength: 6, drawTicks: true},
          border: {display: false},
          ticks: {autoSkip: false, padding: 9, color: '#000', font: {family: FONT, size: 17},
                  callback: v => { const i = cfg.decades.findIndex(d => Math.abs(v - d) / d < 1e-6); return i >= 0 ? cfg.labels[i] : ''; }}
        }
      }
    },
    plugins: [frame]
  });
}

makePanel('c1', {est: estCOD, meas: measCOD, decades: codDecades, labels: codDecLabels,
  padding: {top: 54.3, left: 0, right: 14.5, bottom: 13.7}, xpos: 'top', xh: 40, xticks: true, xlabels: true});
makePanel('c2', {est: estTP, meas: measTP, decades: tpDecades, labels: tpDecLabels,
  padding: {top: 24.3, left: 0, right: 14.5, bottom: 13.3}, xpos: 'bottom', xh: 0, xticks: false, xlabels: false});
makePanel('c3', {est: estTN, meas: measTN, decades: tnDecades, labels: tnDecLabels,
  padding: {top: 19.3, left: 0, right: 14.5, bottom: 30}, xpos: 'bottom', xh: 40, xticks: true, xlabels: true});
</script>
</body></html>
